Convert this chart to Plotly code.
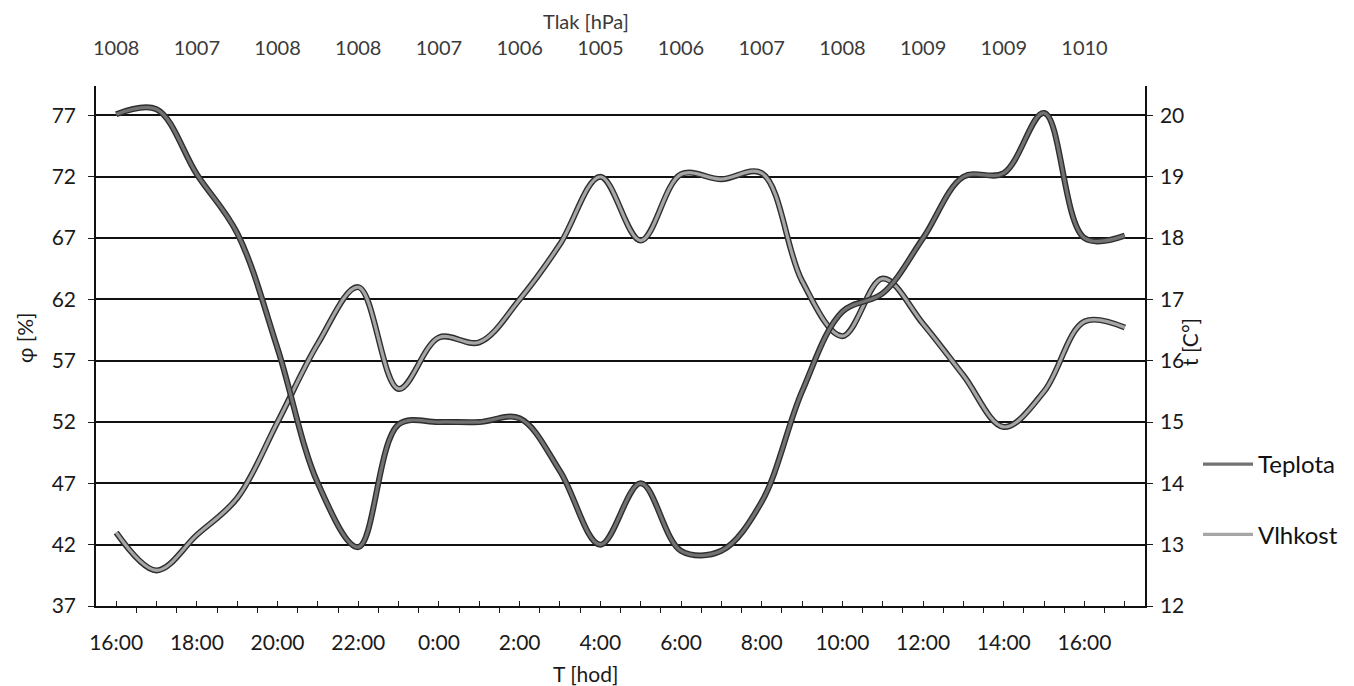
import pandas as pd
import plotly.graph_objects as go

# hourly readings 16:00 (day 1) .. 17:00 (day 2)
times = pd.date_range("2024-05-01 16:00", periods=26, freq="h")

teplota = [20.02, 20.10, 19.04, 18.08, 16.20, 14.00, 12.96, 14.96, 15.00, 15.00,
           15.06, 14.20, 13.00, 14.00, 12.90, 12.90, 13.70, 15.50, 16.80, 17.10,
           18.00, 19.00, 19.06, 20.04, 18.00, 18.04]          # t [°C]
vlhkost = [43.0, 39.9, 42.8, 45.8, 52.0, 58.4, 63.0, 54.7, 58.9, 58.5,
           62.0, 66.5, 72.0, 66.8, 72.2, 71.8, 72.3, 63.5, 59.0, 63.7,
           60.0, 55.8, 51.6, 54.5, 60.2, 59.7]                # φ [%]

label_times = pd.date_range("2024-05-01 16:00", periods=13, freq="2h")
time_labels = ["16:00", "18:00", "20:00", "22:00", "0:00", "2:00", "4:00",
               "6:00", "8:00", "10:00", "12:00", "14:00", "16:00"]
tlak_labels = ["1008", "1007", "1008", "1008", "1007", "1006", "1005",
               "1006", "1007", "1008", "1009", "1009", "1010"]
phi_ticks = [37, 42, 47, 52, 57, 62, 67, 72, 77]
t_ticks = [12, 13, 14, 15, 16, 17, 18, 19, 20]

FONT = "Lato"
OFF = 8                      # page body margin of the html page
W, H = 1354 - OFF, 686 - OFF
# plot box in screenshot pixels
L, R, T, B = 96, 1146, 86, 606


def px_x(x):
    return (x - L) / (R - L)


def px_y(y):
    return (B - y) / (B - T)


fig = go.Figure()

series = [
    ("Teplota", teplota, "y2", "#727272", "g1"),
    ("Vlhkost", vlhkost, "y", "#a6a6a6", "g2"),
]
for name, vals, yax, inner, grp in series:
    fig.add_trace(go.Scatter(
        x=times, y=vals, xaxis="x", yaxis=yax, mode="lines", name=name,
        line=dict(color="#2e2e2e", width=6, shape="spline", smoothing=1),
        showlegend=False, legendgroup=grp, hoverinfo="skip"))
    fig.add_trace(go.Scatter(
        x=times, y=vals, xaxis="x", yaxis=yax, mode="lines", name=name,
        line=dict(color=inner, width=3.2, shape="spline", smoothing=1),
        showlegend=True, legendgroup=grp))

# carrier for the top (pressure) axis, draws nothing visible
fig.add_trace(go.Scatter(x=list(label_times), y=[None] * len(label_times),
                         xaxis="x2", yaxis="y", mode="lines", showlegend=False,
                         hoverinfo="skip"))

hour_ticks = list(times) + [pd.Timestamp("2024-05-02 18:00")]
lt = list(label_times)
hour_text = [time_labels[lt.index(tt)] if tt in lt else "" for tt in hour_ticks]

xrange_ = ["2024-05-01 15:30", "2024-05-02 17:30"]
tick_font = dict(family=FONT, size=21, color="#1a1a1a")

fig.update_layout(
    width=W, height=H,
    margin=dict(l=L - OFF, r=W - (R - OFF), t=T - OFF, b=H - (B - OFF)),
    paper_bgcolor="white", plot_bgcolor="white",
    font=dict(family=FONT, size=21, color="#1a1a1a"),
    xaxis=dict(
        type="date", range=xrange_, automargin=False,
        tickmode="array", tickvals=hour_ticks, ticktext=hour_text,
        ticks="inside", ticklen=5, tickcolor="#1a1a1a", tickwidth=1,
        minor=dict(ticks="outside", ticklen=5, tickcolor="#1a1a1a",
                   tickmode="linear", tick0="2024-05-01 15:30", dtick=3600000,
                   showgrid=False),
        showgrid=False, showline=True, linecolor="#111111", linewidth=1.5,
        tickfont=tick_font, ticklabelstandoff=17, zeroline=False,
    ),
    xaxis2=dict(
        type="date", range=xrange_, overlaying="x", side="top", anchor="y",
        automargin=False,
        tickmode="array", tickvals=lt, ticktext=tlak_labels,
        ticks="", showgrid=False, showline=False, zeroline=False,
        tickfont=dict(family=FONT, size=20, color="#3a3a3a"),
        ticklabelstandoff=26,
    ),
    yaxis=dict(
        range=[37, 79.4], tickmode="array", tickvals=phi_ticks, automargin=False,
        ticks="outside", ticklen=6, tickcolor="#1a1a1a",
        showgrid=True, gridcolor="#111111", gridwidth=1.5,
        showline=True, linecolor="#111111", linewidth=1.5,
        tickfont=tick_font, ticklabelstandoff=8, zeroline=False,
    ),
    yaxis2=dict(
        range=[12, 20.48], tickmode="array", tickvals=t_ticks, automargin=False,
        overlaying="y", side="right", anchor="x",
        ticks="outside", ticklen=6, tickcolor="#1a1a1a",
        showgrid=False, showline=True, linecolor="#111111", linewidth=1.5,
        tickfont=tick_font, ticklabelstandoff=3, zeroline=False,
    ),
    legend=dict(
        x=px_x(1198), y=px_y(442), xanchor="left", yanchor="top",
        font=dict(family=FONT, size=24, color="#111111"),
        tracegroupgap=36, itemwidth=50, bgcolor="rgba(0,0,0,0)",
        traceorder="grouped",
    ),
    showlegend=True,
)

ann = dict(xref="paper", yref="paper", showarrow=False, xanchor="center", yanchor="middle")
fig.add_annotation(text="Tlak [hPa]", x=px_x(586), y=px_y(21),
                   font=dict(family=FONT, size=20, color="#3a3a3a"), **ann)
fig.add_annotation(text="T [hod]", x=px_x(586), y=px_y(673),
                   font=dict(family=FONT, size=21, color="#1a1a1a"), **ann)
fig.add_annotation(text="φ [%]", x=px_x(24), y=px_y(338), textangle=-90,
                   font=dict(family=FONT, size=21, color="#1a1a1a"), **ann)
fig.add_annotation(text="t [C°]", x=px_x(1190), y=px_y(342), textangle=-90,
                   font=dict(family=FONT, size=21, color="#1a1a1a"), **ann)

fig.write_html("out.html")
